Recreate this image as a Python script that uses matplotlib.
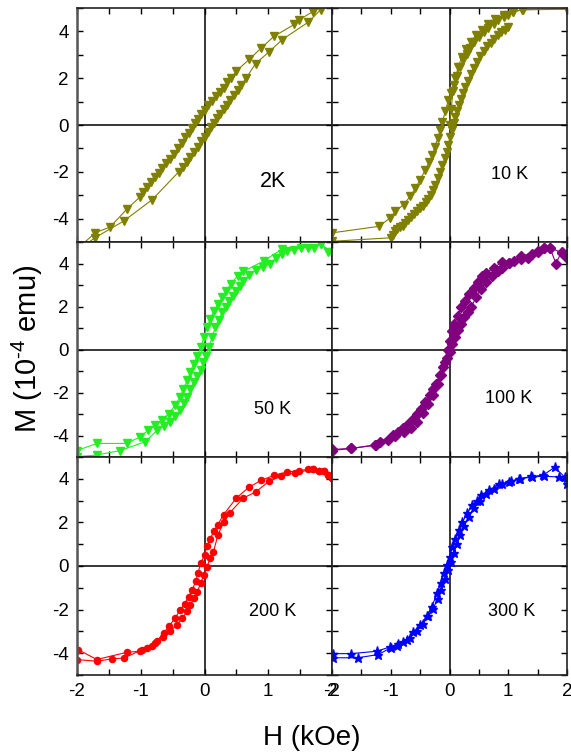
import matplotlib
matplotlib.use("Agg")
import matplotlib.pyplot as plt
from matplotlib.ticker import MultipleLocator, NullFormatter

plt.rcParams['font.family'] = ['Liberation Sans', 'DejaVu Sans']
plt.rcParams['mathtext.fontset'] = 'custom'
plt.rcParams['mathtext.rm'] = 'Liberation Sans'
plt.rcParams['mathtext.it'] = 'Liberation Sans'
plt.rcParams['axes.unicode_minus'] = False

# ---------------- data (H in kOe, M in 1e-4 emu) ----------------
# 2 K
H2_dn = [2.0, 1.70, 1.49, 1.41, 1.09, 0.89, 0.70, 0.50, 0.42, 0.36, 0.30, 0.24, 0.18, 0.12, 0.06, 0.0,
         -0.05, -0.10, -0.15, -0.20, -0.25, -0.30, -0.36, -0.42, -0.48, -0.54, -0.60, -0.66,
         -0.72, -0.78, -0.84, -0.90, -0.96, -1.01, -1.22, -1.48, -1.71, -2.0]
M2_dn = [5.3, 4.85, 4.5, 4.3, 3.79, 3.29, 2.8, 2.31, 2.02, 1.82, 1.6, 1.4, 1.22, 1.04, 0.85, 0.66,
         0.47, 0.27, 0.07, -0.13, -0.33, -0.53, -0.76, -1.0, -1.22, -1.44, -1.64, -1.84,
         -2.04, -2.24, -2.44, -2.65, -2.86, -3.07, -3.6, -4.36, -4.6, -5.3]
H2_up = [-2.0, -1.72, -1.27, -0.82, -0.40, -0.34, -0.28, -0.22, -0.16, -0.10, -0.05, 0.0, 0.05, 0.10,
         0.15, 0.20, 0.25, 0.30, 0.35, 0.40, 0.46, 0.52, 0.58, 0.65, 0.80, 1.01, 1.22, 1.63, 1.82, 2.0]
M2_up = [-5.4, -4.82, -4.11, -3.19, -1.99, -1.8, -1.6, -1.38, -1.15, -0.92, -0.7, -0.5, -0.3, -0.1,
         0.1, 0.29, 0.48, 0.67, 0.86, 1.05, 1.28, 1.5, 1.73, 1.99, 2.62, 3.12, 3.65, 4.4, 4.92, 5.3]

# 10 K
H10_vg = [0.0, 0.03, 0.06, 0.10, 0.15, 0.21, 0.28, 0.36, 0.45, 0.55, 0.66, 0.78, 0.92, 1.08, 1.25, 2.0]
M10_vg = [0.0, 0.7, 1.45, 2.0, 2.5, 2.9, 3.25, 3.55, 3.83, 4.08, 4.3, 4.52, 4.7, 4.85, 4.93, 4.97]
H10_dn = [2.0, 1.23, 1.08, 1.0, 0.92, 0.83, 0.75, 0.66, 0.58, 0.50, 0.41, 0.35, 0.29, 0.23, 0.18,
          0.12, 0.07, 0.03, -0.02, -0.07, -0.12, -0.16, -0.20, -0.25, -0.29, -0.35, -0.41, -0.50,
          -0.58, -0.67, -0.78, -0.92, -1.01, -1.20, -2.0]
M10_dn = [4.95, 4.92, 4.82, 4.72, 4.61, 4.47, 4.33, 4.15, 3.97, 3.76, 3.55, 3.3, 3.05, 2.77, 2.48,
          2.1, 1.7, 1.38, 1.06, 0.6, 0.14, -0.2, -0.57, -0.92, -1.28, -1.6, -1.91, -2.34,
          -2.7, -3.05, -3.4, -3.69, -3.97, -4.33, -4.61]
H10_up = [-2.0, -1.0, -0.97, -0.93, -0.89, -0.85, -0.80, -0.75, -0.70, -0.65, -0.60, -0.55, -0.50,
          -0.45, -0.40, -0.36, -0.32, -0.28, -0.24, -0.20, -0.16, -0.12, -0.08, -0.05, -0.02, 0.01,
          0.04, 0.07, 0.10, 0.13, 0.16, 0.19, 0.23, 0.27, 0.31, 0.36, 0.41, 0.46, 0.52, 0.58, 0.64,
          0.70, 0.76, 0.82, 0.88, 0.94, 1.0]
M10_up = [-4.97, -4.82, -4.68, -4.55, -4.45, -4.37, -4.3, -4.2, -4.08, -3.95, -3.82, -3.68, -3.55,
          -3.48, -3.3, -3.15, -2.98, -2.78, -2.55, -2.28, -2.0, -1.7, -1.42, -1.15, -0.85, -0.5,
          -0.2, 0.08, 0.36, 0.6, 0.85, 1.1, 1.35, 1.62, 1.9, 2.18, 2.45, 2.7, 2.95, 3.17, 3.36,
          3.52, 3.68, 3.83, 3.96, 4.08, 4.18]

# 50 K
H50_dn = [2.0, 1.82, 1.21, 0.93, 0.61, 0.52, 0.41, 0.34, 0.28, 0.21, 0.15, 0.09, 0.04, -0.01, -0.06,
          -0.11, -0.17, -0.22, -0.27, -0.33, -0.38, -0.46, -0.56, -0.67, -0.77, -0.88, -1.01, -1.22,
          -1.69, -2.0]
M50_dn = [4.55, 4.89, 4.66, 4.12, 3.63, 3.43, 3.04, 2.72, 2.42, 2.1, 1.81, 1.42, 1.03, 0.57, 0.1,
          -0.28, -0.66, -1.05, -1.44, -1.82, -2.2, -2.59, -2.98, -3.29, -3.52, -3.75, -4.06, -4.37,
          -4.37, -4.7]
H50_up = [-2.0, -1.69, -1.32, -0.93, -0.74, -0.64, -0.54, -0.46, -0.38, -0.32, -0.27, -0.22, -0.17,
          -0.11, -0.06, -0.02, 0.02, 0.07, 0.12, 0.17, 0.22, 0.28, 0.33, 0.38, 0.44, 0.49, 0.55, 0.61,
          0.70, 0.80, 0.92, 1.03, 1.12, 1.22, 1.30, 1.41, 1.51, 1.62, 1.72, 1.83, 1.93, 2.0]
M50_up = [-4.98, -4.91, -4.7, -4.29, -3.75, -3.55, -3.36, -3.1, -2.82, -2.5, -2.2, -1.85, -1.51,
          -1.25, -0.97, -0.6, -0.28, 0.1, 0.6, 1.03, 1.38, 1.73, 2.0, 2.27, 2.5, 2.73, 2.96, 3.19,
          3.45, 3.69, 3.85, 3.98, 4.27, 4.43, 4.58, 4.63, 4.74, 4.74, 4.74, 4.89, 4.55, 4.5]

# 100 K
H100_dn = [2.0, 1.91, 1.81, 1.71, 1.61, 1.51, 1.41, 1.21, 1.02, 0.90, 0.76, 0.62, 0.56, 0.48, 0.41,
           0.34, 0.27, 0.20, 0.14, 0.08, 0.05, 0.0, -0.03, -0.08, -0.14, -0.20, -0.28, -0.36, -0.45,
           -0.55, -0.66, -0.78, -0.92, -1.05, -1.25, -1.67, -2.0]
M100_dn = [4.45, 4.55, 4.0, 4.74, 4.74, 4.58, 4.46, 4.35, 4.04, 4.09, 3.8, 3.55, 3.43, 3.12, 2.85,
           2.58, 2.27, 1.96, 1.57, 1.19, 0.88, 0.4, 0.0, -0.6, -1.2, -1.6, -2.1, -2.55, -2.95,
           -3.35, -3.65, -3.85, -4.0, -4.2, -4.45, -4.6, -4.7]
H100_up = [-2.0, -1.67, -1.27, -1.19, -0.96, -0.88, -0.79, -0.70, -0.62, -0.55, -0.48, -0.41, -0.34,
           -0.28, -0.23, -0.17, -0.11, -0.05, 0.0, 0.05, 0.09, 0.14, 0.19, 0.25, 0.31, 0.37, 0.45,
           0.53, 0.62, 0.72, 0.82, 0.90, 1.02, 1.10, 1.21, 1.33, 1.51, 1.61, 1.71, 1.91, 2.0]
M100_up = [-4.65, -4.6, -4.44, -4.29, -3.98, -3.85, -3.67, -3.45, -3.21, -3.0, -2.75, -2.45, -2.13,
           -1.85, -1.59, -1.2, -0.82, -0.4, -0.1, 0.25, 0.57, 0.9, 1.19, 1.5, 1.75, 1.96, 2.42,
           2.8, 3.12, 3.4, 3.63, 3.8, 4.04, 4.12, 4.2, 4.27, 4.55, 4.7, 4.74, 4.5, 4.27]

# 200 K
H200_dn = [2.0, 1.93, 1.88, 1.80, 1.70, 1.63, 1.49, 1.29, 1.09, 0.89, 0.70, 0.50, 0.30, 0.21, 0.15,
           0.09, 0.04, 0.0, -0.06, -0.10, -0.14, -0.19, -0.25, -0.31, -0.38, -0.46, -0.56, -0.64,
           -0.77, -0.90, -1.01, -1.22, -1.69, -1.98]
M200_dn = [4.03, 4.16, 4.38, 4.34, 4.43, 4.43, 4.38, 4.31, 4.16, 3.93, 3.62, 3.12, 2.36, 1.9, 1.6,
           1.26, 0.93, 0.5, 0.12, -0.3, -0.71, -1.1, -1.4, -1.74, -2.0, -2.39, -2.77, -3.07,
           -3.53, -3.76, -3.91, -3.96, -4.29, -3.84]
H200_up = [-2.0, -1.69, -1.45, -1.26, -0.98, -0.82, -0.75, -0.65, -0.54, -0.43, -0.35, -0.27, -0.22,
           -0.17, -0.11, -0.06, -0.01, 0.04, 0.09, 0.14, 0.21, 0.30, 0.40, 0.61, 0.80, 1.01, 1.20,
           1.42, 1.70, 1.80, 1.88, 1.93, 2.0]
M200_up = [-4.29, -4.37, -4.26, -4.22, -3.84, -3.68, -3.46, -3.25, -3.0, -2.69, -2.39, -2.08, -1.78,
           -1.48, -1.17, -0.79, -0.41, -0.03, 0.35, 0.65, 1.42, 2.0, 2.45, 3.12, 3.39, 3.88, 4.12,
           4.28, 4.43, 4.34, 4.38, 4.16, 4.03]

# 300 K
H300_dn = [2.0, 1.96, 1.79, 1.59, 1.39, 1.19, 1.02, 0.85, 0.67, 0.53, 0.47, 0.39, 0.30, 0.22, 0.16,
           0.10, 0.05, 0.0, -0.04, -0.10, -0.15, -0.21, -0.30, -0.38, -0.50, -0.62, -0.73, -0.88,
           -1.01, -1.24, -1.67, -1.98]
M300_dn = [3.78, 4.08, 4.53, 4.16, 4.11, 4.0, 3.85, 3.78, 3.47, 3.24, 3.0, 2.79, 2.41, 2.02, 1.64,
           1.26, 0.88, 0.42, 0.05, -0.33, -0.79, -1.25, -1.86, -2.31, -2.69, -3.05, -3.38, -3.6,
           -3.71, -3.91, -4.02, -4.02]
H300_up = [-1.98, -1.56, -1.21, -1.0, -0.9, -0.8, -0.68, -0.56, -0.45, -0.36, -0.28, -0.20, -0.14,
           -0.08, -0.03, 0.02, 0.07, 0.12, 0.18, 0.25, 0.33, 0.42, 0.52, 0.62, 0.75, 0.90, 1.05,
           1.20, 1.40, 1.60, 1.87, 2.0]
M300_up = [-4.21, -4.21, -4.06, -3.75, -3.65, -3.5, -3.3, -3.0, -2.65, -2.3, -1.95, -1.5, -1.1,
           -0.6, -0.2, 0.2, 0.6, 1.0, 1.4, 1.85, 2.25, 2.65, 3.0, 3.3, 3.55, 3.75, 3.9, 4.0, 4.08,
           4.12, 4.08, 4.05]

temps = ["2K", "10 K", "50 K", "100 K", "200 K", "300 K"]
label_pos = [(1.07, -2.4), (1.02, -2.1), (1.07, -2.8), (1.0, -2.27), (1.07, -2.1), (1.05, -2.1)]
label_size = [15.5, 13, 13, 13, 13, 13]
colors = ['#808000', '#808000', '#22ee22', '#800080', '#ff0000', '#0000ff']
markers = ['v', 'v', 'v', 'D', 'o', '*']
msizes = [5.5, 5.5, 5.5, 4.6, 4.4, 6.5]
branches = [
    [(H2_dn, M2_dn), (H2_up, M2_up)],
    [(H10_vg, M10_vg), (H10_dn, M10_dn), (H10_up, M10_up)],
    [(H50_dn, M50_dn), (H50_up, M50_up)],
    [(H100_dn, M100_dn), (H100_up, M100_up)],
    [(H200_dn, M200_dn), (H200_up, M200_up)],
    [(H300_dn, M300_dn), (H300_up, M300_up)],
]

fig = plt.figure(figsize=(5.71, 7.52), dpi=100)
gs = fig.add_gridspec(3, 2, left=77/571, right=567/571, top=1-8/752, bottom=1-675/752,
                      wspace=0, hspace=0, width_ratios=[255, 235], height_ratios=[234, 215, 218])

for i in range(6):
    r, c = divmod(i, 2)
    ax = fig.add_subplot(gs[r, c])
    ax.axhline(0, color='black', lw=1.1, zorder=1)
    ax.axvline(0, color='black', lw=1.1, zorder=1)
    for hx, my in branches[i]:
        ax.plot(hx, my, color=colors[i], lw=0.8, marker=markers[i], ms=msizes[i],
                mec=colors[i], mfc=colors[i], zorder=2)
    ax.set_xlim(-2, 2)
    ax.set_ylim(-5, 5)
    ax.xaxis.set_major_locator(MultipleLocator(1))
    ax.xaxis.set_minor_locator(MultipleLocator(0.5))
    ax.yaxis.set_major_locator(MultipleLocator(2))
    ax.yaxis.set_minor_locator(MultipleLocator(1))
    ax.tick_params(which='both', direction='in', top=True, right=True, length=4, width=1,
                   labelsize=13.5, pad=6)
    if c == 1:
        ax.yaxis.set_major_formatter(NullFormatter())
    if r < 2:
        ax.xaxis.set_major_formatter(NullFormatter())
    for s in ax.spines.values():
        s.set_linewidth(1.2)
        s.set_color('#222222')
    if c == 0:
        ax.spines['left'].set_linewidth(1.8)
        ax.spines['left'].set_color('#555555')
    tx, ty = label_pos[i]
    ax.text(tx, ty, temps[i], fontsize=label_size[i], ha='center', va='center')

fig.text(312/571, 1-738/752, "H (kOe)", fontsize=20, ha='center', va='center')
fig.text(27/571, 1-349/752, r"M (10$^{\text{-}4}$ emu)", fontsize=21, ha='center', va='center',
         rotation=90)

fig.savefig("out.png", dpi=100)
